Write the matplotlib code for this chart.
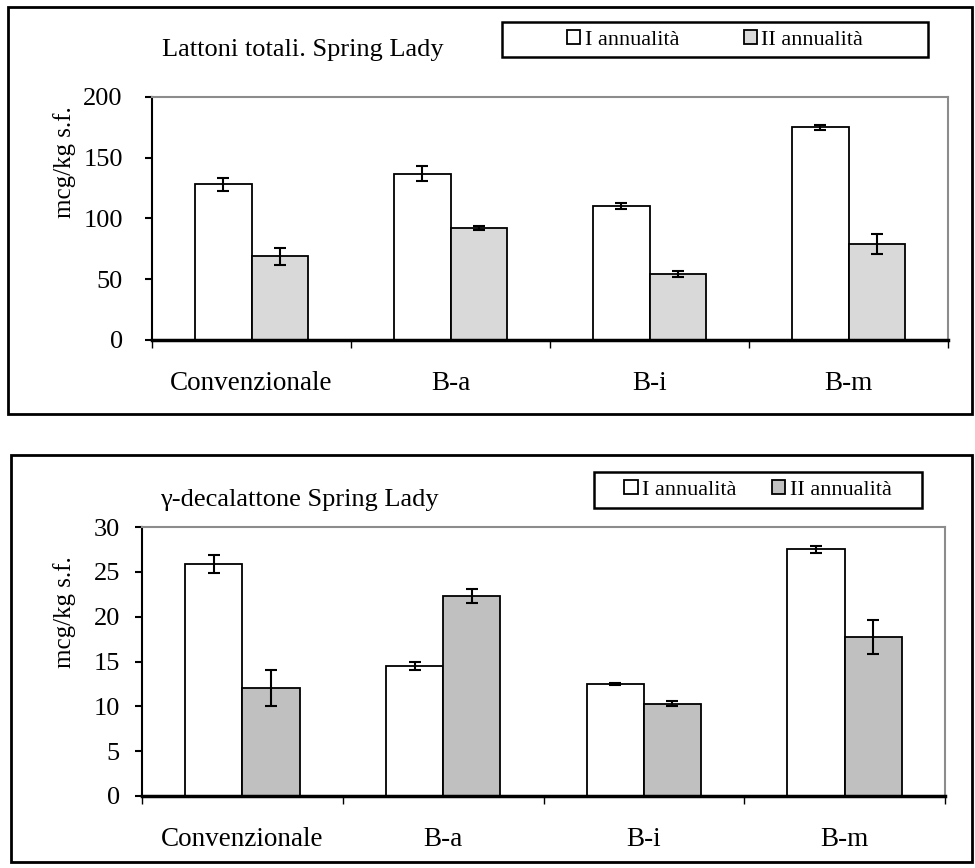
import matplotlib
matplotlib.use('Agg')
import matplotlib.pyplot as plt
from matplotlib.patches import Rectangle, Patch
import numpy as np

# --- Data ---
categories = ['Convenzionale', 'B-a', 'B-i', 'B-m']
series_names = ['I annualità', 'II annualità']

lattoni_I = [128, 137, 110, 175]
lattoni_I_err = [5, 6, 2.5, 2]
lattoni_II = [69, 92, 54, 79]
lattoni_II_err = [7, 1.5, 2.5, 8]

decalattone_I = [25.9, 14.5, 12.5, 27.5]
decalattone_I_err = [1.0, 0.5, 0.1, 0.4]
decalattone_II = [12.0, 22.3, 10.3, 17.7]
decalattone_II_err = [2.0, 0.8, 0.3, 1.9]

W, H = 975, 868
plt.rcParams['font.family'] = ['Liberation Serif', 'DejaVu Serif']
fig = plt.figure(figsize=(W / 100, H / 100), dpi=100)


def px_axes(left, top, right, bottom):
    return fig.add_axes([left / W, 1 - bottom / H, (right - left) / W, (bottom - top) / H])


def px_rect(left, top, right, bottom, lw):
    fig.patches.append(Rectangle((left / W, 1 - bottom / H), (right - left) / W, (bottom - top) / H,
                                 transform=fig.transFigure, fill=False, edgecolor='black',
                                 linewidth=lw, zorder=0))


def draw_panel(ax, vals1, err1, vals2, err2, grey, ymax, ystep, ypad, title, title_xy,
               ylabel_xy, leg_box, leg_center, colspace):
    x = np.arange(len(categories))
    w = 0.285
    ax.bar(x - w / 2, vals1, w, color='white', edgecolor='black', linewidth=1.3, zorder=2)
    ax.bar(x + w / 2, vals2, w, color=grey, edgecolor='black', linewidth=1.3, zorder=2)
    ax.errorbar(x - w / 2, vals1, yerr=err1, fmt='none', ecolor='black', elinewidth=1.5,
                capsize=4, capthick=1.5, zorder=3)
    ax.errorbar(x + w / 2, vals2, yerr=err2, fmt='none', ecolor='black', elinewidth=1.5,
                capsize=4, capthick=1.5, zorder=3)

    ax.set_xlim(-0.5, len(categories) - 0.5)
    ax.set_ylim(0, ymax)
    ax.set_yticks(np.arange(0, ymax + 1, ystep))
    ax.tick_params(axis='y', direction='out', length=5, width=1.5, labelsize=19, pad=ypad)

    ax.set_xticks(np.arange(-0.5, len(categories), 1.0))
    ax.set_xticklabels([])
    ax.set_xticks(x, minor=True)
    ax.set_xticklabels(categories, minor=True)
    ax.tick_params(axis='x', which='major', direction='out', length=6, width=1)
    ax.tick_params(axis='x', which='minor', length=0, labelsize=19.5, pad=22)

    ax.spines['left'].set_linewidth(1.5)
    ax.spines['bottom'].set_linewidth(2.5)
    for s in ['top', 'right']:
        ax.spines[s].set_color('#8c8c8c')
        ax.spines[s].set_linewidth(1.5)

    fig.text(title_xy[0] / W, 1 - title_xy[1] / H, title, ha='left', va='center', fontsize=19)
    fig.text(ylabel_xy[0] / W, 1 - ylabel_xy[1] / H, 'mcg/kg s.f.', ha='center', va='center',
             rotation=90, fontsize=18)

    px_rect(*leg_box, lw=1.8)
    handles = [Patch(facecolor='white', edgecolor='black', linewidth=1.3),
               Patch(facecolor=grey, edgecolor='black', linewidth=1.3)]
    fig.legend(handles, series_names, loc='center', ncol=2, frameon=False, fontsize=16,
               bbox_to_anchor=(leg_center[0] / W, 1 - leg_center[1] / H),
               handlelength=0.6, handleheight=0.6, handletextpad=0.2, columnspacing=colspace)


# --- Top panel ---
px_rect(8, 7, 972, 414, lw=2)
ax1 = px_axes(152, 97, 948, 340)
draw_panel(ax1, lattoni_I, lattoni_I_err, lattoni_II, lattoni_II_err, '#d9d9d9', 200, 50, 16,
           'Lattoni totali. Spring Lady', (162, 50), (65, 162),
           (502, 22, 928, 57), (715, 40), 2.9)

# --- Bottom panel ---
px_rect(11, 455, 972, 862, lw=2)
ax2 = px_axes(142, 527, 945, 796)
draw_panel(ax2, decalattone_I, decalattone_I_err, decalattone_II, decalattone_II_err, '#c0c0c0',
           30, 5, 11, 'γ-decalattone Spring Lady', (160, 500), (65, 612),
           (594, 472, 922, 508), (758, 490), 1.6)

fig.savefig('out.png', dpi=100)
